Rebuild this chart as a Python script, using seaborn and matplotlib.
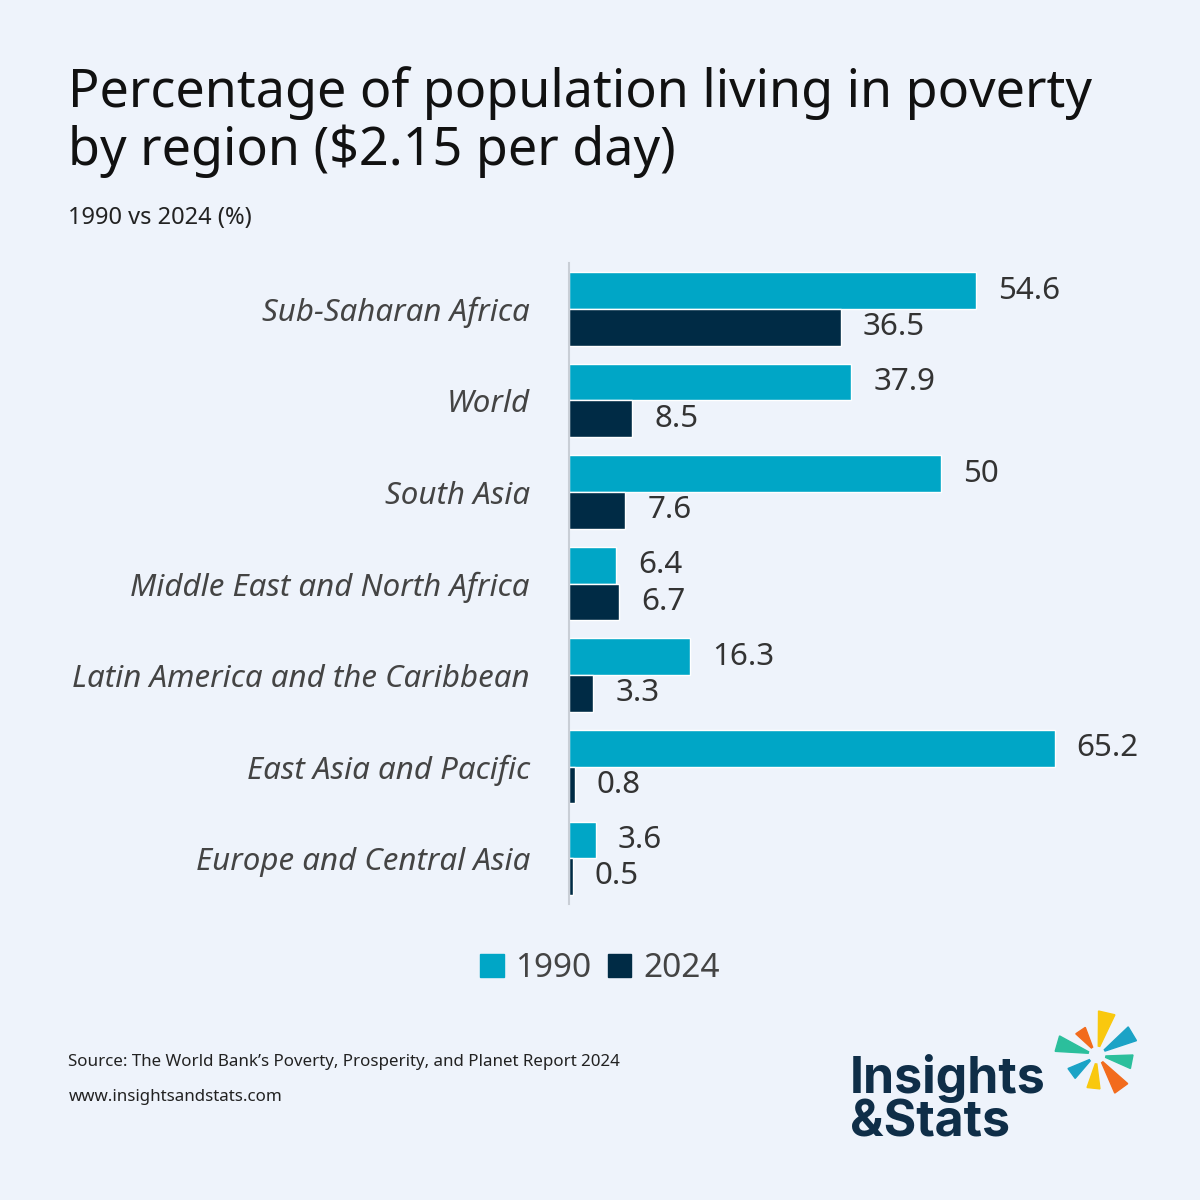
import numpy as np
import pandas as pd
import matplotlib
matplotlib.use("Agg")
import matplotlib.pyplot as plt
import seaborn as sns
from matplotlib.patches import Polygon, Patch

regions = ["Sub-Saharan Africa", "World", "South Asia", "Middle East and North Africa",
           "Latin America and the Caribbean", "East Asia and Pacific", "Europe and Central Asia"]
values_1990 = [54.6, 37.9, 50, 6.4, 16.3, 65.2, 3.6]
values_2024 = [36.5, 8.5, 7.6, 6.7, 3.3, 0.8, 0.5]
years = ["1990", "2024"]

bg = "#eef3fb"
cyan = "#00a6c6"
navy = "#002b45"

df = pd.DataFrame({
    "Region": regions * 2,
    "Year": [years[0]] * len(regions) + [years[1]] * len(regions),
    "Value": values_1990 + values_2024,
})

sns.set_theme(style="white")
plt.rcParams["font.family"] = ["Noto Sans", "DejaVu Sans"]

fig = plt.figure(figsize=(12, 12), dpi=100, facecolor=bg)
ax = fig.add_axes([0.474, 0.2467, 0.4656, 0.534])
ax.set_facecolor(bg)

sns.barplot(data=df, x="Value", y="Region", hue="Year", orient="h",
            palette=[cyan, navy], width=0.8, saturation=1, ax=ax, legend=False)

for c in ax.containers:
    ax.bar_label(c, fmt="%g", padding=16, fontsize=22.5, color="#333333")

ax.set_xlim(0, 75)
ax.set_xlabel("")
ax.set_ylabel("")
ax.set_xticks([])
for s in ["top", "right", "bottom"]:
    ax.spines[s].set_visible(False)
ax.spines["left"].set_color("#c9ced6")
ax.spines["left"].set_linewidth(1.5)
ax.tick_params(axis="y", length=0, pad=28)
for lab in ax.get_yticklabels():
    lab.set_fontstyle("italic")
    lab.set_fontsize(22.5)
    lab.set_color("#444444")

# legend
handles = [Patch(color=cyan, label=years[0]), Patch(color=navy, label=years[1])]
fig.legend(handles=handles, loc="center", bbox_to_anchor=(0.5, 0.193), ncol=2,
           frameon=False, fontsize=24, handlelength=0.7, handleheight=0.7,
           handletextpad=0.35, columnspacing=0.5, labelcolor="#444444")

# titles
fig.text(0.057, 0.945, "Percentage of population living in poverty\nby region ($2.15 per day)",
         fontsize=37.5, color="#111111", va="top", ha="left", linespacing=1.12)
fig.text(0.057, 0.818, "1990 vs 2024 (%)", fontsize=17, color="#222222", va="center")

fig.text(0.057, 0.115, "Source: The World Bank\u2019s Poverty, Prosperity, and Planet Report 2024",
         fontsize=12.2, color="#222222", va="center")
fig.text(0.057, 0.086, "www.insightsandstats.com", fontsize=12.2, color="#222222", va="center")

# logo
fig.text(0.708, 0.083, "Insights\n&Stats", fontsize=36, fontweight="bold", color="#0f2e48",
         family=["Inter", "DejaVu Sans"], va="center", ha="left", linespacing=0.9)
cx, cy = 1097, 1200 - 1055
rays = [(77, "#f9c80e", 44), (31, "#1ba3c6", 42), (-11, "#2bbf9c", 36), (-54, "#f26b1d", 42),
        (-96, "#f9c80e", 34), (216, "#1ba3c6", 32), (164, "#2bbf9c", 42), (124, "#f26b1d", 30)]
for ang, col, r1 in rays:
    r0, hw = 9, 11
    pts = []
    for r, a in [(r0, ang - hw * 0.45), (r1, ang - hw), (r1, ang + hw), (r0, ang + hw * 0.45)]:
        t = np.deg2rad(a)
        pts.append(((cx + r * np.cos(t)) / 1200, (cy + r * np.sin(t)) / 1200))
    fig.patches.append(Polygon(pts, closed=True, color=col, transform=fig.transFigure))

fig.savefig("out.png", dpi=100, facecolor=bg)
